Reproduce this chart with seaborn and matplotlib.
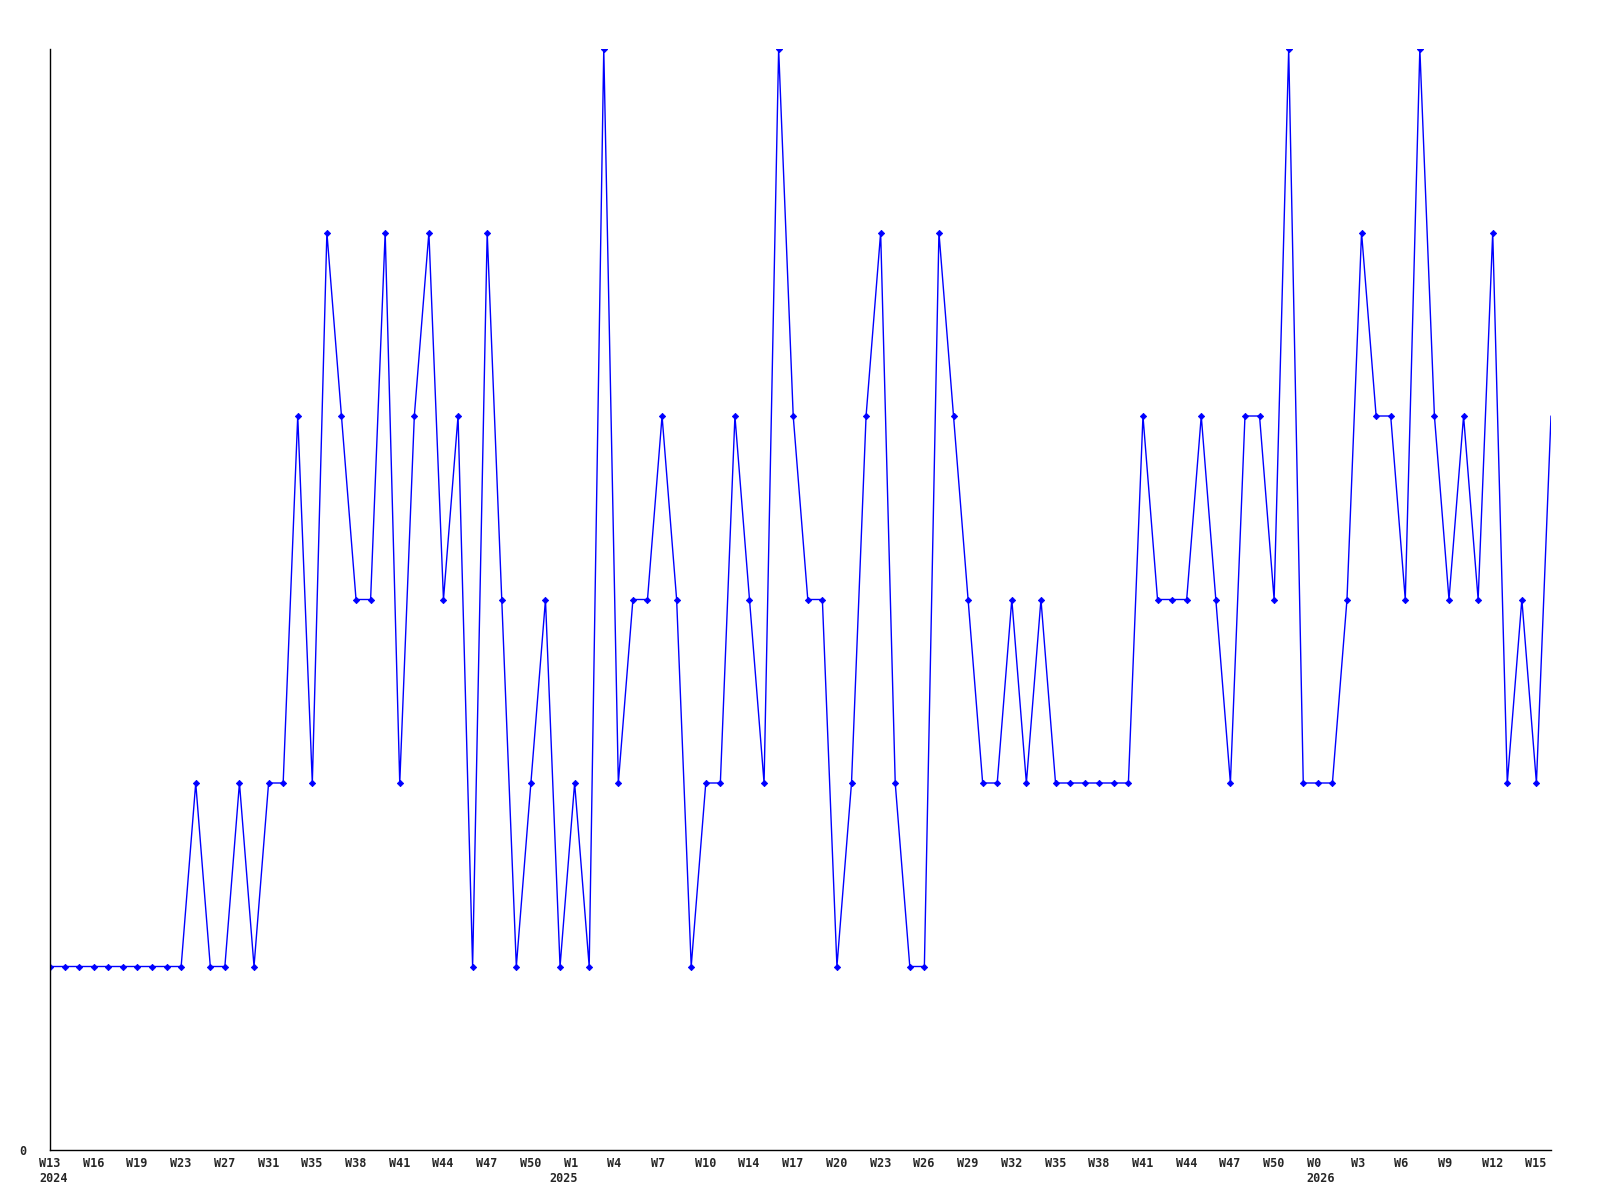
import matplotlib
matplotlib.use("Agg")
import matplotlib.pyplot as plt
from matplotlib.transforms import ScaledTranslation
import seaborn as sns
import pandas as pd

values = [1, 1, 1, 1, 1, 1, 1, 1, 1, 1,
          2, 1, 1, 2, 1, 2, 2, 4, 2, 5,
          4, 3, 3, 5, 2, 4, 5, 3, 4, 1,
          5, 3, 1, 2, 3, 1, 2, 1, 6, 2,
          3, 3, 4, 3, 1, 2, 2, 4, 3, 2,
          6, 4, 3, 3, 1, 2, 4, 5, 2, 1,
          1, 5, 4, 3, 2, 2, 3, 2, 3, 2,
          2, 2, 2, 2, 2, 4, 3, 3, 3, 4,
          3, 2, 4, 4, 3, 6, 2, 2, 2, 3,
          5, 4, 4, 3, 6, 4, 3, 4, 3, 5,
          2, 3, 2, 4]

week_labels = ["W13", "W16", "W19", "W23", "W27", "W31", "W35", "W38", "W41",
               "W44", "W47", "W50", "W1", "W4", "W7", "W10", "W14", "W17",
               "W20", "W23", "W26", "W29", "W32", "W35", "W38", "W41", "W44",
               "W47", "W50", "W0", "W3", "W6", "W9", "W12", "W15"]
year_labels = ["2024", "2025", "2026"]
year_positions = [0, 35, 87]

sns.set_style("white")
plt.rcParams['font.family'] = ['DejaVu Sans Mono', 'DejaVu Sans']

df = pd.DataFrame({"idx": range(len(values)), "value": values})

fig = plt.figure(figsize=(16, 12), dpi=100)
ax = fig.add_axes([50/1600, 1 - 1150/1200, 1501/1600, 1101/1200])

sns.lineplot(data=df, x="idx", y="value", ax=ax, color="#0000ff",
             linewidth=1.0, marker="D", markersize=3.2,
             markeredgewidth=0.6, markeredgecolor="#0000ff",
             markevery=list(range(len(values) - 1)))

ax.set_xlim(0, len(values) - 1)
ax.set_ylim(0, 6)
ax.set_xlabel("")
ax.set_ylabel("")

for s in ["top", "right"]:
    ax.spines[s].set_visible(False)
for s in ["left", "bottom"]:
    ax.spines[s].set_color("black")
    ax.spines[s].set_linewidth(1.0)

tick_pos = [i * 3 for i in range(len(week_labels))]
ax.set_xticks(tick_pos)
ax.set_xticklabels(week_labels, fontsize=8.5, fontweight="bold")
ax.set_yticks([0])
ax.set_yticklabels(["0"], fontsize=8.5, fontweight="bold")
ax.tick_params(axis="x", length=0, pad=5)
ax.tick_params(axis="y", length=0, pad=17)
ax.grid(False)

off = ScaledTranslation(-11 / 100, 0, fig.dpi_scale_trans)
for lab in ax.get_xticklabels():
    lab.set_horizontalalignment("left")
    lab.set_transform(lab.get_transform() + off)

for yl, xp in zip(year_labels, year_positions):
    ax.annotate(yl, xy=(xp, 0), xycoords=("data", "axes fraction"),
                xytext=(-11 * 0.72, -29 * 0.72), textcoords="offset points",
                ha="left", va="center", fontsize=8.5, fontweight="bold",
                annotation_clip=False)

fig.savefig("out.png", dpi=100, facecolor="white")
